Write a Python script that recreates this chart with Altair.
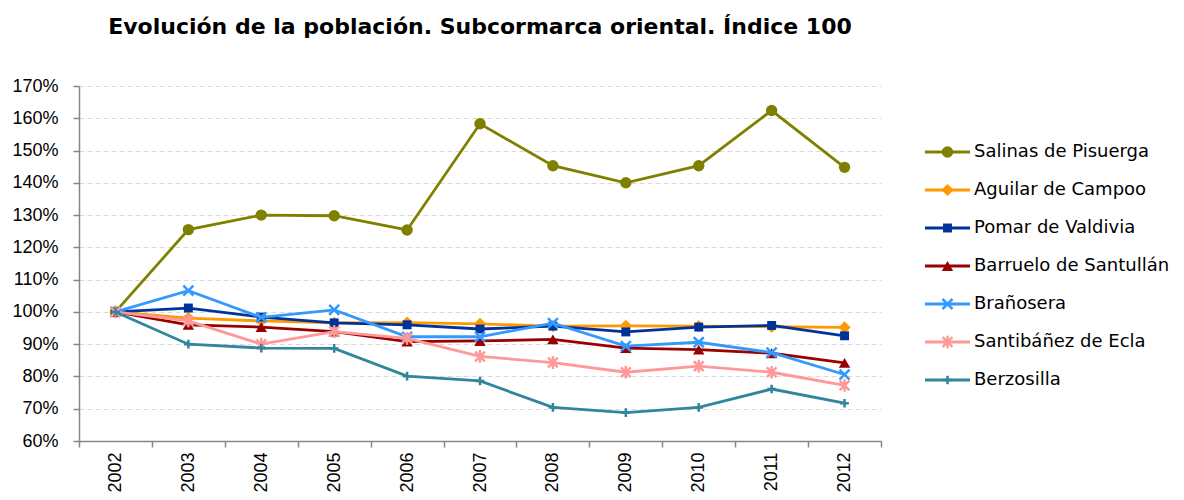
import altair as alt
import pandas as pd

years = ["2002", "2003", "2004", "2005", "2006", "2007", "2008", "2009", "2010", "2011", "2012"]

series = [
    "Salinas de Pisuerga",
    "Aguilar de Campoo",
    "Pomar de Valdivia",
    "Barruelo de Santullán",
    "Brañosera",
    "Santibáñez de Ecla",
    "Berzosilla",
]
colors = ["#808000", "#FF9900", "#003399", "#990000", "#3399FF", "#FF9999", "#31859C"]

salinas = [100, 125.5, 130.0, 129.8, 125.4, 158.3, 145.3, 140.0, 145.3, 162.4, 144.8]
aguilar = [100, 98.1, 97.2, 96.6, 96.7, 96.3, 95.6, 95.7, 95.6, 95.4, 95.2]
pomar = [100, 101.2, 98.4, 96.6, 96.0, 94.7, 95.6, 93.8, 95.3, 95.8, 92.6]
barruelo = [100, 96.0, 95.3, 93.9, 90.8, 91.0, 91.5, 88.8, 88.3, 87.2, 84.2]
branosera = [100, 106.6, 98.3, 100.6, 92.3, 92.3, 96.5, 89.4, 90.6, 87.4, 80.6]
santibanez = [100, 97.2, 90.0, 93.9, 91.8, 86.2, 84.3, 81.3, 83.2, 81.3, 77.2]
berzosilla = [100, 90.0, 88.8, 88.7, 80.1, 78.6, 70.4, 68.8, 70.4, 76.1, 71.7]

all_values = [salinas, aguilar, pomar, barruelo, branosera, santibanez, berzosilla]

y_ticks = [60, 70, 80, 90, 100, 110, 120, 130, 140, 150, 160, 170]

# marker shapes (unit paths scaled by size)
marker_shapes = [
    "circle",
    "diamond",
    "square",
    "triangle-up",
    "M-1,-1L1,1M-1,1L1,-1",
    "M-1,-1L1,1M-1,1L1,-1M0,-1.3L0,1.3",
    "M-1,0L1,0M0,-1L0,1",
]
marker_filled = [True, True, True, True, False, False, False]
marker_sizes = [130, 150, 80, 130, 100, 95, 75]

rows = []
for name, vals in zip(series, all_values):
    for yr, v in zip(years, vals):
        rows.append({"Año": yr, "Municipio": name, "Indice": v})
df = pd.DataFrame(rows)
legend_df = pd.DataFrame({"Municipio": series})

color_scale = alt.Scale(domain=series, range=colors)
color_enc = alt.Color("Municipio:N", scale=color_scale, legend=None)

x_enc = alt.X(
    "Año:O",
    sort=years,
    bandPosition=0.5,
    scale=alt.Scale(type="band", paddingInner=0, paddingOuter=0),
    axis=alt.Axis(
        title=None,
        labelAngle=-90,
        labelFont="Liberation Sans",
        labelFontSize=18,
        labelColor="#000000",
        labelPadding=5,
        tickBand="extent",
        tickSize=6,
        tickColor="#868686",
        tickWidth=1.5,
        domainColor="#868686",
        domainWidth=1.5,
        grid=False,
    ),
)

y_axis = alt.Axis(
    title=None,
    values=y_ticks,
    labelExpr="datum.value + '%'",
    labelFont="Liberation Sans",
    labelFontSize=18,
    labelColor="#000000",
    labelPadding=15,
    tickSize=6,
    tickColor="#868686",
    tickWidth=1.5,
    domainColor="#868686",
    domainWidth=1.5,
    grid=True,
    gridColor="#D9D9D9",
    gridDash=[5, 3],
    gridWidth=1.2,
)


def y_enc(show_axis):
    return alt.Y(
        "Indice:Q",
        scale=alt.Scale(domain=[60, 170], nice=False, zero=False),
        axis=y_axis if show_axis else None,
    )


# legend rows: vertical positions of the legend entries inside the plot group
leg_y = alt.Y(
    "Municipio:N",
    sort=series,
    scale=alt.Scale(type="point", domain=series, range=[66, 294], padding=0),
    axis=None,
)


def point_mark(chart, i):
    if marker_filled[i]:
        return chart.mark_point(shape=marker_shapes[i], filled=True,
                                size=marker_sizes[i], opacity=1)
    return chart.mark_point(shape=marker_shapes[i], filled=False,
                            size=marker_sizes[i], strokeWidth=2.5, opacity=1)


layers = []
for i, name in enumerate(series):
    base = alt.Chart(df).transform_filter(alt.datum.Municipio == name)
    line = base.mark_line(strokeWidth=2.8).encode(
        x=x_enc, y=y_enc(i == 0), color=color_enc
    )
    pts = point_mark(base, i).encode(x=x_enc, y=y_enc(False), color=color_enc)
    layers += [line, pts]

# legend drawn as marks
for i, name in enumerate(series):
    lbase = alt.Chart(legend_df).transform_filter(alt.datum.Municipio == name)
    seg = lbase.mark_rule(strokeWidth=2.8).encode(
        x=alt.value(846), x2=alt.value(891), y=leg_y, color=color_enc
    )
    mk = point_mark(lbase, i).encode(x=alt.value(868.5), y=leg_y, color=color_enc)
    layers += [seg, mk]

legend_text = alt.Chart(legend_df).mark_text(
    align="left", baseline="middle", font="DejaVu Sans", fontSize=18, color="#000000"
).encode(x=alt.value(895), y=leg_y, text="Municipio:N")
layers.append(legend_text)

chart = alt.layer(*layers).resolve_scale(y="independent").properties(
    width=802,
    height=355,
    autosize=alt.AutoSizeParams(type="none"),
    padding={"left": 71, "top": 78, "right": 295, "bottom": 51},
    title=alt.TitleParams(
        "Evolución de la población. Subcormarca oriental. Índice 100",
        font="DejaVu Sans",
        fontSize=22,
        fontWeight="bold",
        color="#000000",
        anchor="middle",
        frame="group",
        baseline="alphabetic",
        offset=21,
    ),
).configure_view(stroke=None)

chart.save("out.html", embed_options={"renderer": "svg", "actions": False})
